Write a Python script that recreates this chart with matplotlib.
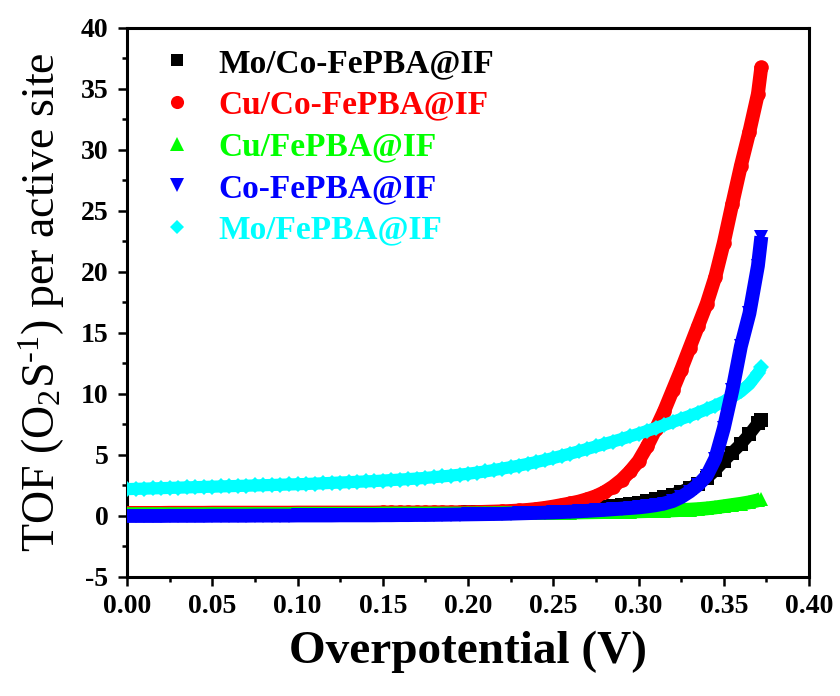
import matplotlib
matplotlib.use("Agg")
import matplotlib.pyplot as plt

plt.rcParams['font.family'] = ['Liberation Serif', 'DejaVu Serif']
plt.rcParams['mathtext.fontset'] = 'custom'
plt.rcParams['mathtext.rm'] = 'Liberation Serif'
plt.rcParams['mathtext.it'] = 'Liberation Serif:italic'
plt.rcParams['mathtext.bf'] = 'Liberation Serif:bold'

# overpotential (V)
eta = [0.000, 0.005, 0.010, 0.015, 0.020, 0.025, 0.030, 0.035, 0.040, 0.045,
       0.050, 0.055, 0.060, 0.065, 0.070, 0.075, 0.080, 0.085, 0.090, 0.095,
       0.100, 0.105, 0.110, 0.115, 0.120, 0.125, 0.130, 0.135, 0.140, 0.145,
       0.150, 0.155, 0.160, 0.165, 0.170, 0.175, 0.180, 0.185, 0.190, 0.195,
       0.200, 0.205, 0.210, 0.215, 0.220, 0.225, 0.230, 0.235, 0.240, 0.245,
       0.250, 0.255, 0.260, 0.265, 0.270, 0.275, 0.280, 0.285, 0.290, 0.295,
       0.300, 0.305, 0.310, 0.315, 0.320, 0.325, 0.330, 0.335, 0.340, 0.345,
       0.350, 0.355, 0.360, 0.365, 0.370, 0.372]

# TOF per active site
tof_mo_co = [0.20, 0.20, 0.20, 0.20, 0.20, 0.20, 0.20, 0.20, 0.20, 0.20,
             0.22, 0.22, 0.22, 0.22, 0.22, 0.22, 0.22, 0.22, 0.22, 0.22,
             0.25, 0.25, 0.25, 0.25, 0.25, 0.25, 0.25, 0.25, 0.25, 0.25,
             0.28, 0.28, 0.28, 0.28, 0.28, 0.28, 0.28, 0.28, 0.28, 0.28,
             0.30, 0.31, 0.32, 0.33, 0.34, 0.35, 0.37, 0.39, 0.41, 0.43,
             0.45, 0.48, 0.52, 0.56, 0.60, 0.65, 0.72, 0.80, 0.88, 0.97,
             1.08, 1.20, 1.35, 1.53, 1.75, 2.00, 2.30, 2.65, 3.10, 3.75,
             4.50, 5.20, 5.90, 6.70, 7.60, 7.90]

tof_cu_co = [0.25, 0.25, 0.25, 0.25, 0.25, 0.26, 0.26, 0.26, 0.26, 0.26,
             0.27, 0.27, 0.27, 0.27, 0.27, 0.27, 0.27, 0.27, 0.27, 0.27,
             0.28, 0.28, 0.28, 0.28, 0.28, 0.28, 0.28, 0.28, 0.28, 0.28,
             0.29, 0.29, 0.29, 0.29, 0.29, 0.29, 0.30, 0.30, 0.30, 0.30,
             0.31, 0.32, 0.34, 0.36, 0.38, 0.41, 0.45, 0.50, 0.57, 0.66,
             0.77, 0.90, 1.03, 1.18, 1.38, 1.62, 1.95, 2.40, 2.95, 3.65,
             4.50, 5.70, 7.10, 8.60, 10.3, 12.0, 13.8, 15.6, 17.4, 19.6,
             22.4, 25.6, 28.7, 31.5, 34.6, 36.8]

tof_cu = [0.15, 0.15, 0.15, 0.15, 0.15, 0.15, 0.15, 0.15, 0.15, 0.15,
          0.16, 0.16, 0.16, 0.16, 0.16, 0.16, 0.16, 0.16, 0.16, 0.16,
          0.18, 0.18, 0.18, 0.18, 0.18, 0.18, 0.18, 0.18, 0.18, 0.18,
          0.20, 0.20, 0.20, 0.20, 0.20, 0.20, 0.20, 0.20, 0.20, 0.20,
          0.21, 0.21, 0.22, 0.22, 0.23, 0.23, 0.24, 0.24, 0.25, 0.25,
          0.26, 0.27, 0.28, 0.29, 0.30, 0.31, 0.32, 0.33, 0.34, 0.36,
          0.38, 0.40, 0.42, 0.44, 0.46, 0.49, 0.52, 0.56, 0.62, 0.70,
          0.80, 0.90, 1.00, 1.12, 1.28, 1.40]

tof_co = [0.00, 0.00, 0.00, 0.00, 0.00, 0.01, 0.01, 0.01, 0.01, 0.01,
          0.02, 0.02, 0.02, 0.02, 0.02, 0.03, 0.03, 0.03, 0.03, 0.03,
          0.04, 0.04, 0.04, 0.04, 0.04, 0.05, 0.05, 0.05, 0.05, 0.05,
          0.06, 0.06, 0.07, 0.07, 0.08, 0.08, 0.09, 0.10, 0.11, 0.12,
          0.13, 0.14, 0.15, 0.16, 0.17, 0.19, 0.21, 0.23, 0.25, 0.27,
          0.29, 0.32, 0.35, 0.38, 0.42, 0.46, 0.50, 0.55, 0.60, 0.65,
          0.70, 0.78, 0.88, 1.02, 1.22, 1.55, 2.00, 2.55, 3.30, 4.70,
          7.20, 10.3, 13.9, 16.6, 20.5, 22.9]

tof_mo = [2.20, 2.22, 2.24, 2.26, 2.28, 2.30, 2.32, 2.34, 2.36, 2.38,
          2.40, 2.42, 2.44, 2.46, 2.48, 2.50, 2.52, 2.54, 2.56, 2.58,
          2.60, 2.62, 2.65, 2.68, 2.71, 2.74, 2.77, 2.80, 2.83, 2.86,
          2.90, 2.94, 2.98, 3.02, 3.07, 3.12, 3.18, 3.24, 3.31, 3.38,
          3.46, 3.55, 3.65, 3.76, 3.88, 4.00, 4.13, 4.27, 4.42, 4.58,
          4.75, 4.93, 5.11, 5.30, 5.50, 5.70, 5.90, 6.10, 6.30, 6.52,
          6.74, 6.97, 7.20, 7.45, 7.70, 7.95, 8.20, 8.47, 8.75, 9.05,
          9.38, 9.75, 10.2, 10.8, 11.7, 12.2]

names = ['Mo/Co-FePBA@IF', 'Cu/Co-FePBA@IF', 'Cu/FePBA@IF', 'Co-FePBA@IF', 'Mo/FePBA@IF']
series = [tof_mo_co, tof_cu_co, tof_cu, tof_co, tof_mo]
colors = ['#000000', '#ff0000', '#00ff00', '#0000ff', '#00ffff']
markers = ['s', 'o', '^', 'v', 'D']
msizes = [9.5, 10.5, 10.5, 10.5, 8.0]
zorders = [2, 3, 4, 6, 5]

fig = plt.figure(figsize=(8.4, 6.96), dpi=100)
ax = fig.add_axes([0.1512, 0.171, 0.812, 0.789])

for y, nm, c, m, ms, z in zip(series, names, colors, markers, msizes, zorders):
    # thick line underneath so the dense band stays continuous
    lw = ms * (1.1 if m == 'D' else 0.95)
    ax.plot(eta, y, '-', color=c, lw=lw, solid_capstyle='butt', zorder=z)
    ax.plot(eta, y, ls='none', marker=m, ms=ms, color=c, mec=c, mew=0, label=nm, zorder=z)

ax.set_xlim(0, 0.40)
ax.set_ylim(-5, 40)
ax.set_xticks([0.00, 0.05, 0.10, 0.15, 0.20, 0.25, 0.30, 0.35, 0.40])
ax.set_xticks([0.025, 0.075, 0.125, 0.175, 0.225, 0.275, 0.325, 0.375], minor=True)
ax.set_yticks([-5, 0, 5, 10, 15, 20, 25, 30, 35, 40])
ax.set_yticks([-2.5, 2.5, 7.5, 12.5, 17.5, 22.5, 27.5, 32.5, 37.5], minor=True)
ax.set_xticklabels(['%.2f' % v for v in ax.get_xticks()], fontweight='bold', fontsize=20)
ax.set_yticklabels(['%d' % v for v in ax.get_yticks()], fontweight='bold', fontsize=20)

for s in ax.spines.values():
    s.set_linewidth(2.2)
ax.tick_params(which='major', direction='out', length=6.5, width=1.8, pad=6,
               top=False, right=False)
ax.tick_params(which='minor', direction='out', length=3.8, width=1.8,
               top=False, right=False)
ax.tick_params(axis='y', which='major', pad=7)

ax.set_xlabel('Overpotential (V)', fontsize=34, fontweight='bold', labelpad=8)
ax.set_ylabel('TOF (O$_2$S$^{\\text{-1}}$) per active site', fontsize=33, labelpad=10)

leg = ax.legend(loc='upper left', bbox_to_anchor=(0.049, 0.963), frameon=False,
                handlelength=1.0, handletextpad=0.75, markerscale=0.9,
                labelspacing=0.32, borderpad=0, borderaxespad=0,
                labelcolor='linecolor', prop={'weight': 'bold', 'size': 24})

fig.savefig('out.png', dpi=100)
